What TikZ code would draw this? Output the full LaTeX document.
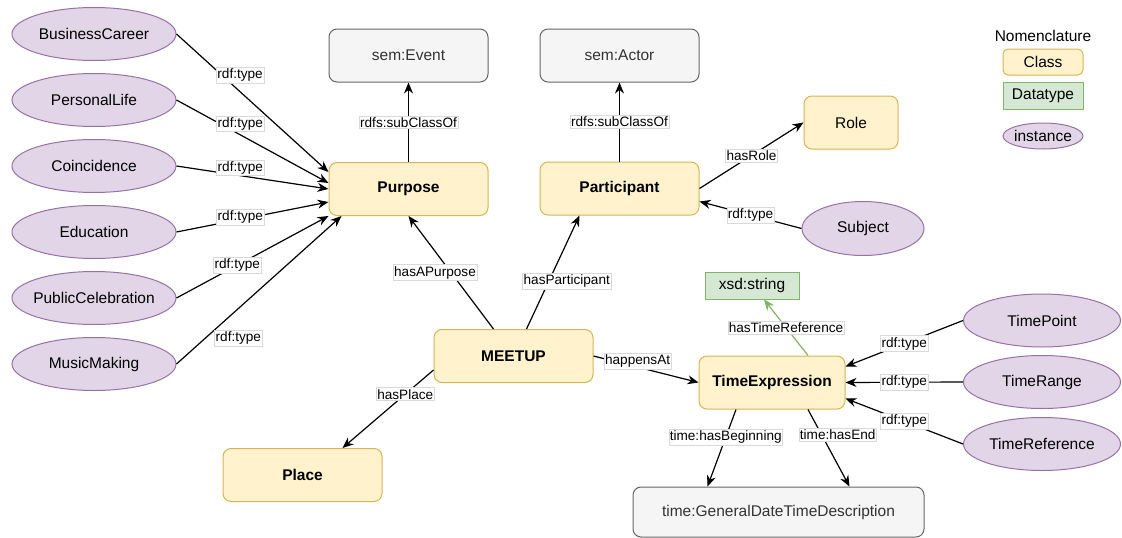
\documentclass[tikz,border=0pt]{standalone}
\usepackage{fontspec}
\setmainfont{Liberation Sans}
\usetikzlibrary{calc,shapes.geometric,arrows.meta}

\definecolor{classfill}{HTML}{FFF2CC}
\definecolor{classline}{HTML}{D6B656}
\definecolor{typefill}{HTML}{D5E8D4}
\definecolor{typeline}{HTML}{82B366}
\definecolor{instfill}{HTML}{E1D5E7}
\definecolor{instline}{HTML}{9673A6}
\definecolor{extfill}{HTML}{F5F5F5}
\definecolor{extline}{HTML}{666666}
\definecolor{exttext}{HTML}{333333}

\tikzset{
  nodefont/.style={font=\fontsize{15.5pt}{18pt}\selectfont},
  classbox/.style={nodefont, draw=classline, fill=classfill, line width=1pt,
    rounded corners=8pt, inner sep=0pt, minimum width=159pt, minimum height=53pt},
  keyclass/.style={classbox, font=\fontsize{15.5pt}{18pt}\selectfont\bfseries},
  extbox/.style={nodefont, draw=extline, fill=extfill, text=exttext, line width=1pt,
    rounded corners=8pt, inner sep=0pt, minimum width=159pt, minimum height=53pt},
  dtbox/.style={nodefont, draw=typeline, fill=typefill, line width=1pt,
    inner sep=0pt, minimum width=94pt, minimum height=27pt},
  inst/.style={nodefont, ellipse, draw=instline, fill=instfill, line width=1pt,
    inner sep=0pt, minimum width=164pt, minimum height=53pt},
  lbl/.style={font=\fontsize{13.6pt}{15pt}\selectfont, fill=white, draw=black!15,
    line width=.5pt, inner xsep=1pt, inner ysep=1.5pt}
}

\begin{document}
\begin{tikzpicture}[x=1pt, y=-1pt, >={Stealth[length=11pt,width=9pt]}]
    \useasboundingbox (0,0) rectangle (1122,538);

    % instances on the left
    \node[inst] (bc) at (94,34)  {BusinessCareer};
    \node[inst] (pl) at (94,100) {PersonalLife};
    \node[inst] (co) at (94,166) {Coincidence};
    \node[inst] (ed) at (94,232) {Education};
    \node[inst] (pc) at (94,298) {\makebox[0pt]{PublicCelebration}};
    \node[inst] (mm) at (94,364) {MusicMaking};

    % classes
    \node[extbox]   (event)       at (408.5,55.5)  {sem:Event};
    \node[keyclass] (purpose)     at (408.5,189)   {Purpose};
    \node[extbox]   (actor)       at (619.5,55.5)  {sem:Actor};
    \node[keyclass] (participant) at (619.5,188.5) {Participant};
    \node[classbox, minimum width=94pt] (role) at (851,122.5) {Role};
    \node[inst, minimum width=122pt, minimum height=54pt] (subject) at (863,228.5) {Subject};
    \node[keyclass] (meetup)      at (513.5,356)   {MEETUP};
    \node[keyclass] (place)       at (302.5,475)   {Place};
    \node[keyclass, minimum width=146pt] (timex) at (772,382.5) {TimeExpression};
    \node[dtbox]    (xsd)         at (752,285.5)   {xsd:string};
    \node[inst, minimum width=157pt] (tpoint) at (1042,320.5) {TimePoint};
    \node[inst, minimum width=157pt] (trange) at (1042,382)   {TimeRange};
    \node[inst, minimum width=157pt] (tref)   at (1042,444)   {TimeReference};
    \node[extbox, minimum width=291pt, minimum height=50pt] (gdt) at (778.5,512) {time:GeneralDateTimeDescription};

    % nomenclature
    \node[nodefont] (nomen) at (1043,36) {Nomenclature};
    \node[classbox, minimum width=80pt, minimum height=26pt, rounded corners=5pt] (kclass) at (1043,62) {Class};
    \node[dtbox, minimum width=80pt] (kdtype) at (1043,96) {Datatype};
    \node[inst, minimum width=80pt, minimum height=26pt] (kinst) at (1043,136) {\makebox[0pt]{instance}};

    \path[->, line width=1.2pt]
      (bc.east) edge node[lbl,pos=.3,xshift=18pt]   {rdf:type} ($(purpose.west)+(0,-17)$)
      (pl.east) edge node[lbl,pos=.42,yshift=11pt]  {rdf:type} ($(purpose.west)+(0,-6)$)
      (co.east) edge node[lbl,pos=.42,yshift=8pt]   {rdf:type} (purpose.west)
      (ed.east) edge node[lbl,pos=.42,yshift=2pt]   {rdf:type} ($(purpose.west)+(0,13)$)
      (pc.east) edge node[lbl,pos=.4]               {rdf:type} (purpose.south west)
      (mm.east) edge node[lbl,pos=.175,xshift=33pt] {rdf:type} ($(purpose.south west)+(13,0)$)
      (purpose)     edge node[lbl] {rdfs:subClassOf} (event)
      (participant) edge node[lbl] {rdfs:subClassOf} (actor)
      (participant.east) edge node[lbl] {hasRole} (role.west)
      (subject.west)     edge node[lbl] {rdf:type} ($(participant.east)+(0,13)$)
      ($(meetup.north)+(-20,0)$) edge node[lbl,xshift=-16pt]         {hasAPurpose}    (purpose.south)
      ($(meetup.north)+(13,0)$)  edge node[lbl,pos=.42,xshift=18pt]  {hasParticipant} ($(participant.south)+(-40,0)$)
      ($(meetup.west)+(0,14)$)   edge node[lbl,pos=.31]              {hasPlace}       ($(place.north)+(40,0)$)
      (meetup.east)              edge node[lbl,pos=.42,yshift=6pt]   {happensAt}      (timex.west)
      ($(timex.north)+(36,0)$)   edge[draw=typeline] node[lbl]       {hasTimeReference} ($(xsd.south)+(12,0)$)
      (tpoint.west) edge node[lbl] {rdf:type} ($(timex.east)+(0,-16)$)
      (trange.west) edge node[lbl] {rdf:type} (timex.east)
      (tref.west)   edge node[lbl] {rdf:type} ($(timex.east)+(0,16)$)
      ($(timex.south)+(-36,0)$)  edge node[lbl,pos=.36]              {time:hasBeginning} ($(gdt.north)+(-71,0)$)
      ($(timex.south)+(36,0)$)   edge node[lbl,pos=.33,xshift=16pt]  {time:hasEnd}       ($(gdt.north)+(71,0)$);
\end{tikzpicture}
\end{document}
